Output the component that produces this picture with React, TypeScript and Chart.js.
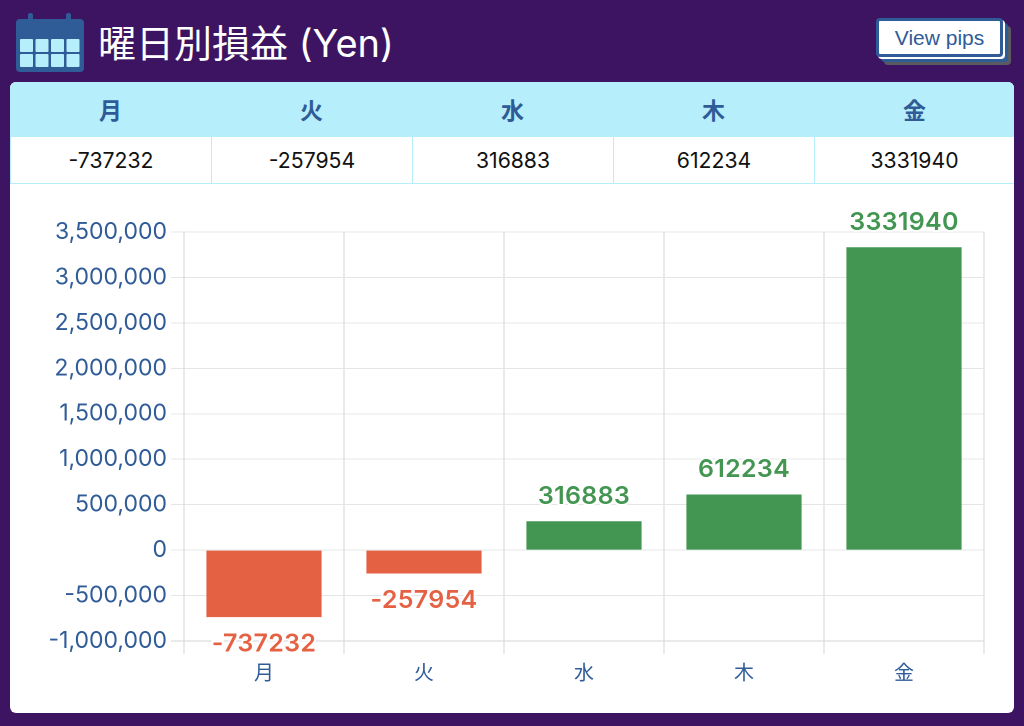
import React, { useEffect, useRef } from "react";
import { Chart, registerables } from "chart.js";

Chart.register(...registerables);

const days = ["月", "火", "水", "木", "金"];
const profits = [-737232, -257954, 316883, 612234, 3331940];
const yMin = -1000000;
const yMax = 3500000;
const yStep = 500000;
const title = "曜日別損益 (Yen)";
const buttonLabel = "View pips";

const GREEN = "#439651";
const RED = "#e56144";
const BLUE = "#2f5b97";
const GRID = "#e4e6e6";
const AXIS = "#d2d6d6";
const CJK = '"Noto Sans CJK JP", "Noto Sans", sans-serif';
const NUM = 'Inter, "Noto Sans CJK JP", sans-serif';

const valueLabels = {
  id: "valueLabels",
  afterDatasetsDraw(chart: any) {
    const { ctx } = chart;
    const meta = chart.getDatasetMeta(0);
    ctx.save();
    ctx.font = `600 25px ${NUM}`;
    ctx.letterSpacing = "0.3px";
    ctx.textAlign = "center";
    ctx.textBaseline = "middle";
    meta.data.forEach((bar: any, i: number) => {
      const v = profits[i];
      const y = v >= 0 ? bar.y - 25 : bar.y + 27;
      const text = String(v);
      ctx.lineWidth = 4;
      ctx.strokeStyle = "#ffffff";
      ctx.strokeText(text, bar.x, y);
      ctx.fillStyle = v >= 0 ? GREEN : RED;
      ctx.fillText(text, bar.x, y);
    });
    ctx.restore();
  },
};

function CalendarIcon() {
  const cells: React.ReactNode[] = [];
  for (let r = 0; r < 2; r++) {
    for (let c = 0; c < 4; c++) {
      cells.push(
        <rect key={`${r}-${c}`} x={4 + c * 15.5} y={26 + r * 15} width={13} height={13} rx={1} fill="#b7eefb" />
      );
    }
  }
  return (
    <svg width={68} height={60} viewBox="0 0 68 60" style={{ position: "absolute", left: 16, top: 13 }}>
      <rect x={12} y={0} width={5} height={10} rx={2} fill={BLUE} />
      <rect x={50} y={0} width={5} height={10} rx={2} fill={BLUE} />
      <rect x={0} y={6} width={68} height={53} rx={4} fill={BLUE} />
      {cells}
    </svg>
  );
}

export default function App() {
  const ref = useRef<HTMLCanvasElement>(null);

  useEffect(() => {
    if (!ref.current) return;
    const chart = new Chart(ref.current, {
      type: "bar",
      data: {
        labels: days,
        datasets: [
          {
            data: profits,
            backgroundColor: profits.map((v) => (v >= 0 ? GREEN : RED)),
            categoryPercentage: 0.9,
            barPercentage: 0.8,
          },
        ],
      },
      options: {
        responsive: false,
        animation: false,
        devicePixelRatio: 2,
        layout: { padding: { top: 42, right: 26, bottom: 0, left: 0 } },
        plugins: { legend: { display: false }, tooltip: { enabled: false } },
        scales: {
          x: {
            afterFit(scale: any) {
              scale.height = 69;
            },
            grid: { color: AXIS, lineWidth: 1, tickLength: 13 },
            border: { color: AXIS },
            ticks: { color: BLUE, font: { family: CJK, size: 20 }, padding: 6 },
          },
          y: {
            min: yMin,
            max: yMax,
            afterFit(scale: any) {
              scale.width = 174;
            },
            grid: {
              color: (c: any) => (c.tick && c.tick.value === yMin ? AXIS : GRID),
              lineWidth: 1,
              tickLength: 13,
            },
            border: { color: AXIS },
            ticks: {
              stepSize: yStep,
              color: BLUE,
              font: { family: NUM, size: 23 },
              padding: 4,
              callback: (v: any) => Number(v).toLocaleString("en-US"),
            },
          },
        },
      },
      plugins: [valueLabels],
    } as any);
    return () => chart.destroy();
  }, []);

  const cellBase: React.CSSProperties = { flex: "0 0 201px", textAlign: "center", boxSizing: "border-box" };

  return (
    <div style={{ position: "fixed", inset: 0, background: "#3c1461", overflow: "hidden" }}>
      <CalendarIcon />
      <div
        style={{
          position: "absolute",
          left: 98,
          top: 18,
          color: "#fff",
          fontFamily: `Inter, ${CJK}`,
          fontSize: 38,
          lineHeight: "50px",
          whiteSpace: "nowrap",
        }}
      >
        {title}
      </div>
      <div
        style={{
          position: "absolute",
          left: 876,
          top: 18,
          width: 127,
          height: 39,
          boxSizing: "border-box",
          background: "#fff",
          border: `3px solid ${BLUE}`,
          borderRadius: 4,
          color: BLUE,
          fontFamily: '"Liberation Sans", sans-serif',
          fontSize: 21,
          lineHeight: "33px",
          textAlign: "center",
          boxShadow: `2px 2px 0 0 #fff, 5px 5px 0 0 ${BLUE}, 8px 8px 0 0 #5a5a62`,
        }}
      >
        {buttonLabel}
      </div>
      <div
        style={{
          position: "absolute",
          left: 10,
          top: 82,
          width: 1004,
          height: 631,
          background: "#fff",
          borderRadius: 6,
          overflow: "hidden",
        }}
      >
        <div style={{ display: "flex", height: 55, background: "#b7eefb" }}>
          {days.map((d) => (
            <div
              key={d}
              style={{ ...cellBase, color: BLUE, fontFamily: CJK, fontWeight: 700, fontSize: 23, lineHeight: "54px" }}
            >
              {d}
            </div>
          ))}
        </div>
        <div style={{ display: "flex", height: 47, borderBottom: "1.5px solid #b7eefb", boxSizing: "border-box" }}>
          {profits.map((v, i) => (
            <div
              key={days[i]}
              style={{
                ...cellBase,
                color: "#111",
                fontFamily: NUM,
                fontSize: 21.2,
                lineHeight: "47px",
                borderLeft: "1.5px solid #b7eefb",
                borderRight: i === profits.length - 1 ? "1px solid #b7eefb" : "none",
              }}
            >
              {v}
            </div>
          ))}
        </div>
        <canvas
          ref={ref}
          width={1000}
          height={520}
          style={{ position: "absolute", left: 0, top: 108, width: 1000, height: 520 }}
        />
      </div>
    </div>
  );
}
